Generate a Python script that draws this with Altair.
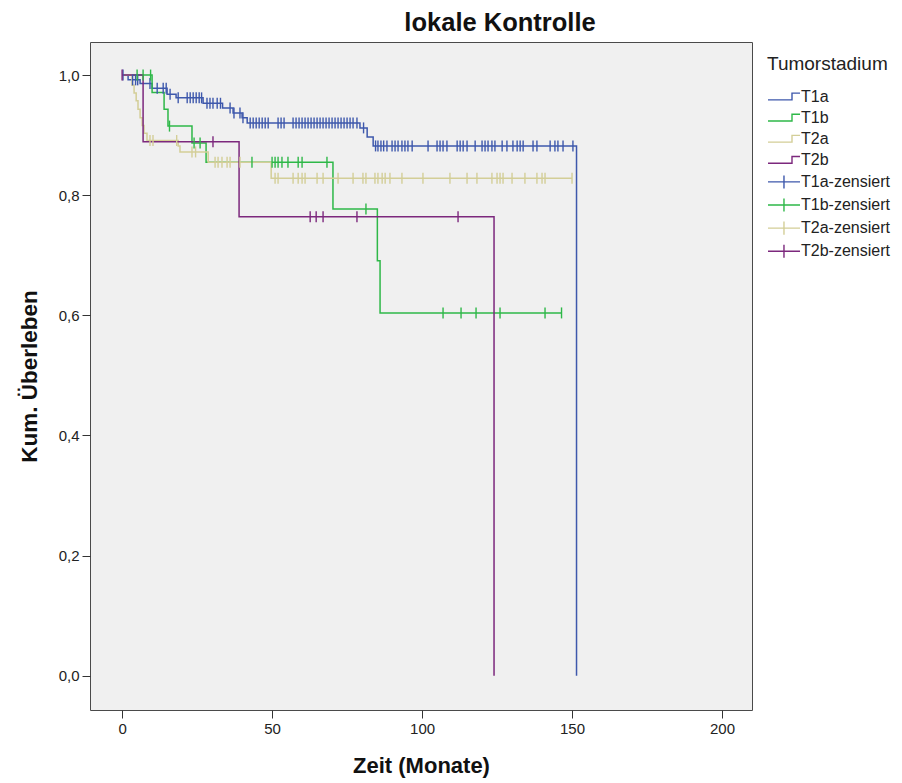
import altair as alt
import numpy as np
import pandas as pd

groups = ["T1a", "T1b", "T2a", "T2b"]
legend_labels = groups + [g + "-zensiert" for g in groups]
palette = ["#3E58AC", "#2EB848", "#D3CE97", "#7C287D"]

# Kaplan-Meier steps: event times (Monate) and cumulative survival after each step
t1a_time = [0, 2, 6, 10, 15, 18, 27, 33.5, 37, 40, 41.7, 79.3, 81.7, 83.7, 151.5]
t1a_surv = [1.0, 0.992, 0.986, 0.978, 0.968, 0.962, 0.953, 0.945, 0.937, 0.929, 0.920, 0.912, 0.897, 0.882, 0.0]
t1a_cens = [0.3, 3.5, 4.5, 5.2, 9.3, 11.7, 13.7, 14.7, 16, 18.7, 21.7, 22.7, 23.7, 24.7, 25.7, 26.5,
            28.3, 29.3, 30.3, 31.7, 32.8, 36, 37.3, 39.3, 40.3, 42.7, 43.7, 44.7, 45.7, 46.7, 47.7, 48.7,
            52, 53, 54, 57, 58, 59, 60, 61, 62, 63, 64, 65, 66, 67, 68, 69, 70, 71, 72, 73, 74, 75, 76, 77,
            78.3, 80.5, 84.5, 85.3, 86.3, 87.2, 88.3, 90, 91, 92, 93.3, 94.3, 95.3, 96.7, 102, 105, 106, 107,
            108.3, 111.7, 112.7, 113.7, 115, 117.7, 120, 121, 122, 123.3, 124.3, 126.7, 128.3, 130.3, 131.7,
            132.7, 133.7, 137, 138.3, 142.7, 144.3, 145.3, 147, 150.3]

t1b_time = [0, 10, 14, 15.3, 23.3, 28, 70.3, 85.1, 86]
t1b_surv = [1.0, 0.971, 0.943, 0.915, 0.887, 0.855, 0.777, 0.691, 0.604]
t1b_cens = [5, 7, 9.5, 15.8, 24, 26, 43.3, 50, 51, 52, 53.3, 55.3, 58.7, 60, 68.3, 81.3,
            107, 113, 118, 126, 141, 146.5]

t2a_time = [0, 3.3, 4.0, 4.7, 5.3, 6.0, 6.7, 7.3, 8.3, 18.7, 19.3, 28.7, 49.7]
t2a_surv = [1.0, 0.983, 0.970, 0.957, 0.943, 0.929, 0.916, 0.903, 0.891, 0.882, 0.872, 0.855, 0.828]
t2a_cens = [9.3, 10.3, 18.2, 23.3, 24.5, 31, 32, 33.3, 35, 36, 39.3, 51, 52, 57, 58.7, 60, 61, 65, 67,
            72, 77, 80.3, 81.3, 84.3, 85.3, 86.7, 87.7, 89.3, 93.3, 100.3, 109.3, 115, 118.3, 123.3, 125,
            126, 127, 130, 134.3, 138.3, 140, 141, 150]

t2b_time = [0, 7, 39, 124]
t2b_surv = [1.0, 0.889, 0.764, 0.0]
t2b_cens = [0, 30.3, 62.7, 64.7, 67, 78.3, 112]

x_ticks = [0, 50, 100, 150, 200]
y_ticks = [0.0, 0.2, 0.4, 0.6, 0.8, 1.0]

curves = {
    "T1a": (t1a_time, t1a_surv, t1a_cens),
    "T1b": (t1b_time, t1b_surv, t1b_cens),
    "T2a": (t2a_time, t2a_surv, t2a_cens),
    "T2b": (t2b_time, t2b_surv, t2b_cens),
}

line_rows, cens_rows = [], []
for g, (tt, ss, cc) in curves.items():
    tt = np.asarray(tt, float)
    ss = np.asarray(ss, float)
    for a, b in zip(tt, ss):
        line_rows.append({"grp": g, "t": a, "s": b})
    if ss[-1] > 0 and max(cc) > tt[-1]:
        line_rows.append({"grp": g, "t": float(max(cc)), "s": ss[-1]})
    for c in cc:
        idx = np.searchsorted(tt, c, side="right") - 1
        cens_rows.append({"grp": g, "leg": g + "-zensiert", "t": c, "s": ss[idx]})

line_df = pd.DataFrame(line_rows)
cens_df = pd.DataFrame(cens_rows)

color_scale = alt.Scale(domain=legend_labels, range=palette + palette)
step_path = "M-1,0.45H2.2V-0.45H3.27"
cross_path = "M-1,0H3.27M1.13,-0.87V0.87"
shape_scale = alt.Scale(domain=legend_labels, range=[step_path] * 4 + [cross_path] * 4)

x_enc = alt.X("t:Q", scale=alt.Scale(domain=[-10.7, 210], nice=False, zero=False),
              axis=alt.Axis(values=x_ticks, title="Zeit (Monate)", titlePadding=19, titleFontSize=22))
y_enc = alt.Y("s:Q", scale=alt.Scale(domain=[-0.057, 1.055], nice=False, zero=False),
              axis=alt.Axis(values=y_ticks, title="Kum. Überleben", titlePadding=17, titleFontSize=22.5,
                            labelExpr="replace(format(datum.value, '.1f'), '.', ',')"))

leg = alt.Legend(title="Tumorstadium", orient="none", legendX=677, legendY=13,
                 symbolSize=225, labelOffset=17, rowPadding=4.1, titlePadding=14,
                 labelFontSize=16, titleFontSize=19, titleFontWeight="normal",
                 labelColor="#222222", titleColor="#222222", symbolStrokeWidth=1.4,
                 symbolFillColor="transparent", labelFont="Liberation Sans", titleFont="Liberation Sans")

legend_layer = alt.Chart(cens_df).mark_point(size=0, filled=False, strokeWidth=1.4, opacity=1).encode(
    x=x_enc, y=y_enc,
    color=alt.Color("leg:N", scale=color_scale, legend=leg),
    shape=alt.Shape("leg:N", scale=shape_scale, legend=leg),
)

lines = alt.Chart(line_df).mark_line(interpolate="step-after", strokeWidth=1.5).encode(
    x=x_enc, y=y_enc,
    color=alt.Color("grp:N", scale=color_scale, legend=leg),
    detail="grp:N",
)

ticks = alt.Chart(cens_df).mark_point(shape="M0,-1V1", size=121, filled=False, strokeWidth=1.4,
                                      opacity=1).encode(
    x=x_enc, y=y_enc,
    color=alt.Color("leg:N", scale=color_scale, legend=leg),
)

chart = alt.layer(legend_layer, lines, ticks).properties(
    width=662, height=668,
    autosize=alt.AutoSizeParams(type="none"),
    padding={"left": 82, "top": 34, "right": 140, "bottom": 70},
    title=alt.TitleParams("lokale Kontrolle", fontSize=25.5, fontWeight="bold", font="Liberation Sans",
                          color="#111111", anchor="middle", frame="group", dx=79, offset=6),
).configure_view(
    fill="#F0F0F0", stroke="#4a4a4a", strokeWidth=1
).configure_axis(
    domain=False, grid=False, tickColor="#333333", tickSize=8, labelPadding=3,
    labelFont="Liberation Sans", labelFontSize=15, labelColor="#222222",
    titleFont="Liberation Sans", titleFontWeight="bold", titleColor="#111111",
)

chart.save("out.html", embed_options={"renderer": "svg", "actions": False})
